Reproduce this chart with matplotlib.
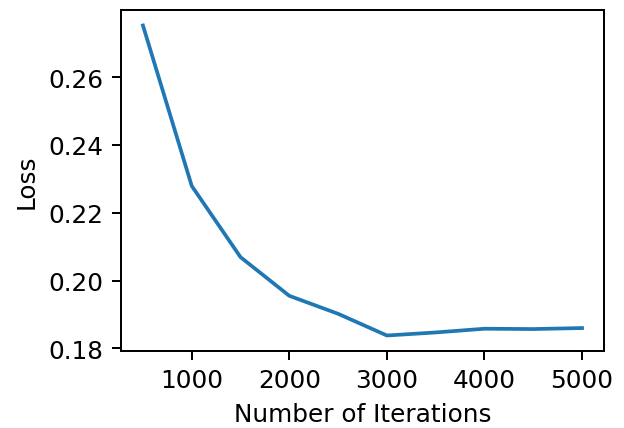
import numpy as np
import matplotlib.pyplot as plt

iterations = [500, 1000, 1500, 2000, 2500, 3000, 3500, 4000, 4500, 5000]
loss = [0.2752, 0.2279, 0.2069, 0.1955, 0.1902, 0.1838, 0.1847, 0.1858, 0.1857, 0.1860]

dpi = 178
plt.rcParams['font.size'] = 10

fig = plt.figure(figsize=(624 / dpi, 429 / dpi), dpi=dpi)
ax = fig.add_axes([121 / 624, 1 - 352 / 429, (604 - 121) / 624, (352 - 11) / 429])
ax.plot(iterations, loss, color='#1f77b4')
ax.set_xlabel("Number of Iterations")
ax.set_ylabel("Loss")
ax.set_xticks([1000, 2000, 3000, 4000, 5000])
ax.set_yticks([0.18, 0.20, 0.22, 0.24, 0.26])
plt.savefig('out.png', dpi=dpi)
